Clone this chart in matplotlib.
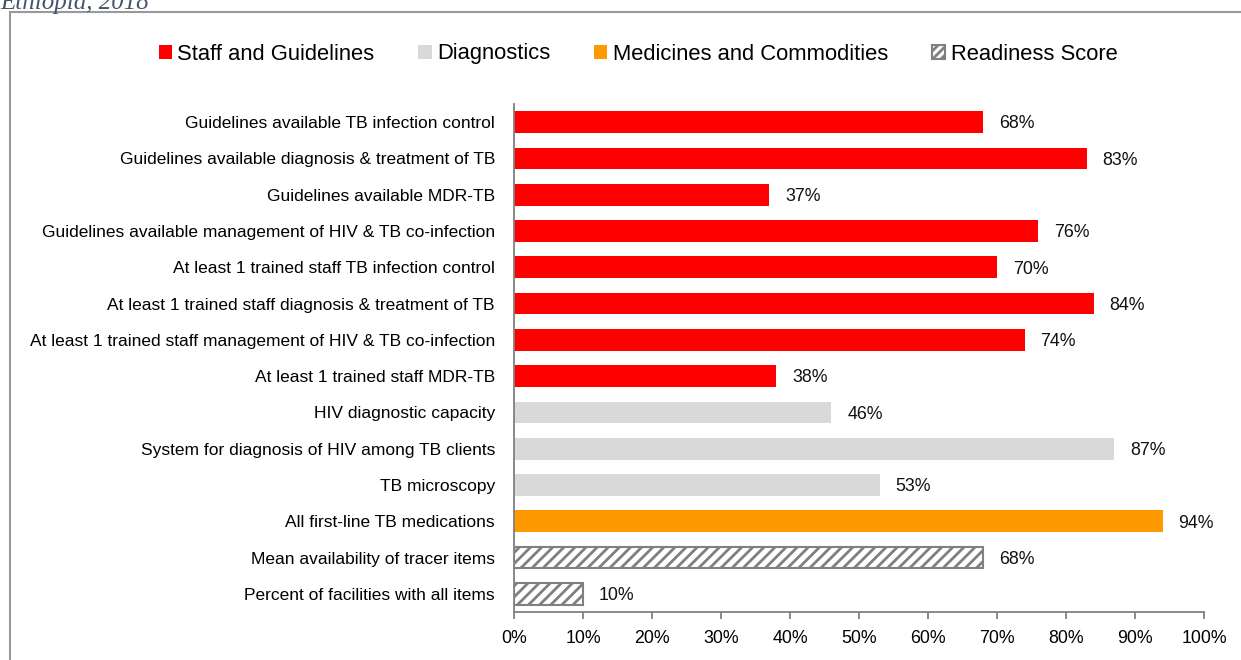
import matplotlib.pyplot as plt
from matplotlib.patches import Patch
import matplotlib.ticker as mticker

# --- DATA
labels = ["Guidelines available TB infection control",
          "Guidelines available diagnosis & treatment of TB",
          "Guidelines available MDR-TB",
          "Guidelines available management of HIV & TB co-infection",
          "At least 1 trained staff TB infection control",
          "At least 1 trained staff diagnosis & treatment of TB",
          "At least 1 trained staff management of HIV & TB co-infection",
          "At least 1 trained staff MDR-TB",
          "HIV diagnostic capacity",
          "System for diagnosis of HIV among TB clients",
          "TB microscopy",
          "All first-line TB medications",
          "Mean availability of tracer items",
          "Percent of facilities with all items"]
values = [68, 83, 37, 76, 70, 84, 74, 38, 46, 87, 53, 94, 68, 10]
groups = ["staff"] * 8 + ["diag"] * 3 + ["med"] + ["score"] * 2
group_names = ["Staff and Guidelines", "Diagnostics", "Medicines and Commodities", "Readiness Score"]
ticks = [0, 10, 20, 30, 40, 50, 60, 70, 80, 90, 100]

colors = {"staff": "#FF0000", "diag": "#D9D9D9", "med": "#FF9900", "score": "white"}
GRAY = "#808080"

plt.rcParams['font.family'] = ['Liberation Sans', 'DejaVu Sans']
plt.rcParams['hatch.color'] = GRAY
plt.rcParams['hatch.linewidth'] = 2.0

fig = plt.figure(figsize=(12.41, 6.6), dpi=100)
ax = fig.add_axes([514/1241, 1-612/660, 690/1241, 508/660])

for i, (v, g) in enumerate(zip(values, groups)):
    if g == "score":
        ax.barh(i, v, height=0.6, color="white", edgecolor=GRAY, hatch="///", lw=1.5)
    else:
        ax.barh(i, v, height=0.6, color=colors[g], lw=0)
    ax.text(v + 2.3, i + 0.05, f"{v}%", va="center", ha="left", fontsize=12.8, color="#111111")

ax.set_ylim(13.5, -0.5)
ax.set_xlim(0, 100)
ax.set_yticks(range(len(labels)))
ax.set_yticklabels(labels, fontsize=12.5)
ax.set_xticks(ticks)
ax.xaxis.set_major_formatter(mticker.FuncFormatter(lambda x, p: f"{x:.0f}%"))
ax.tick_params(axis="x", labelsize=12.8, length=5, color=GRAY, width=1.3, pad=8)
ax.tick_params(axis="y", length=0, pad=13.7)
for s in ["top", "right"]:
    ax.spines[s].set_visible(False)
for s in ["left", "bottom"]:
    ax.spines[s].set_color(GRAY)
    ax.spines[s].set_linewidth(1.3)

handles = [Patch(facecolor=colors["staff"]), Patch(facecolor=colors["diag"]),
           Patch(facecolor=colors["med"]),
           Patch(facecolor="white", edgecolor=GRAY, hatch="////", lw=1.5)]
fig.legend(handles, group_names, loc="center", bbox_to_anchor=(638/1241, 1-54/660),
           ncol=4, frameon=False, fontsize=15.8, handlelength=0.6, handleheight=0.6,
           handletextpad=0.25, columnspacing=2.0)

# frame lines and cut-off caption
fig.add_artist(plt.Line2D([10/1241, 10/1241], [0, 1-12/660], color="#999999", lw=1.5))
fig.add_artist(plt.Line2D([10/1241, 1], [1-12/660, 1-12/660], color="#999999", lw=1.5))
fig.text(0.0, 1-3/660, "Ethiopia, 2018", family="Liberation Serif", style="italic",
         fontsize=18, color="#44546A", va="center", ha="left")

fig.savefig("out.png", dpi=100)
